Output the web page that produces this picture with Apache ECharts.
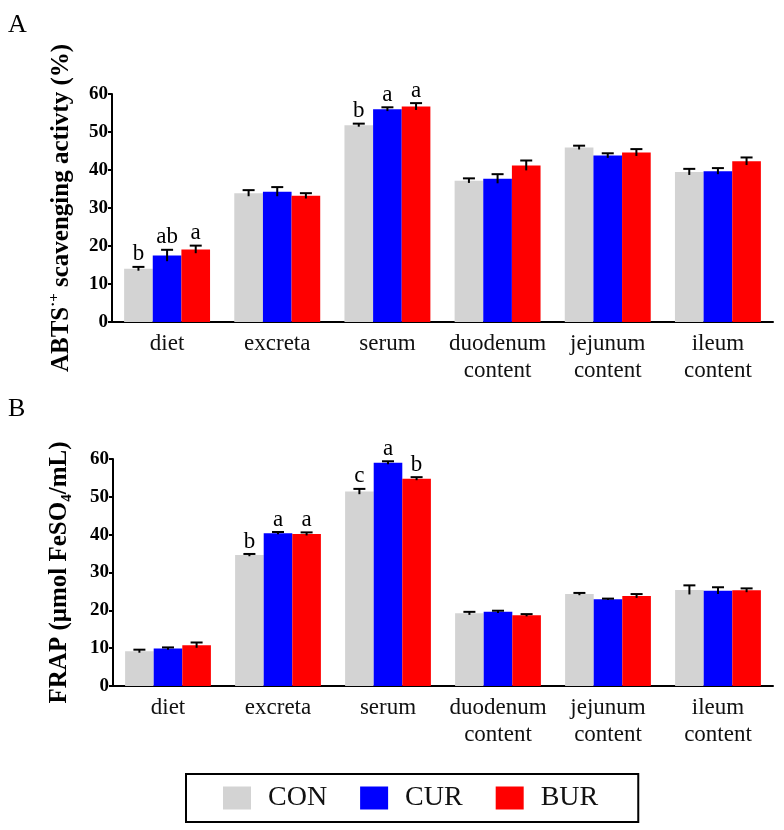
<!DOCTYPE html>
<html>
<head>
<meta charset="utf-8">
<script src="https://cdn.jsdelivr.net/npm/echarts@6/dist/echarts.min.js"></script>
<style>html,body{margin:0;padding:0;background:#fff}#c{width:784px;height:830px}</style>
</head>
<body>
<div id="c"></div>
<script>
// ---- data ----
const categories = ['diet', 'excreta', 'serum', 'duodenum\ncontent', 'jejunum\ncontent', 'ileum\ncontent'];
const seriesNames = ['CON', 'CUR', 'BUR'];
const yTicks = [0, 10, 20, 30, 40, 50, 60];

// Panel A: ABTS scavenging activity (%)
const abtsCON = [14.0, 33.9, 51.8, 37.2, 45.9, 39.5];
const abtsCUR = [17.5, 34.3, 56.0, 37.7, 43.8, 39.7];
const abtsBUR = [19.1, 33.2, 56.7, 41.2, 44.6, 42.3];
const abtsErrCON = [0.5, 0.8, 0.4, 0.6, 0.5, 0.8];
const abtsErrCUR = [1.5, 1.2, 0.5, 1.2, 0.6, 0.8];
const abtsErrBUR = [1.0, 0.7, 0.9, 1.3, 0.9, 1.0];
const abtsLetCON = ['b', '', 'b', '', '', ''];
const abtsLetCUR = ['ab', '', 'a', '', '', ''];
const abtsLetBUR = ['a', '', 'a', '', '', ''];

// Panel B: FRAP (umol FeSO4/mL)
const frapCON = [9.2, 34.6, 51.4, 19.2, 24.3, 25.4];
const frapCUR = [9.9, 40.4, 59.0, 19.6, 22.9, 25.2];
const frapBUR = [10.8, 40.2, 54.8, 18.7, 23.8, 25.3];
const frapErrCON = [0.4, 0.3, 0.7, 0.4, 0.3, 1.2];
const frapErrCUR = [0.3, 0.3, 0.4, 0.3, 0.2, 0.9];
const frapErrBUR = [0.7, 0.4, 0.4, 0.3, 0.5, 0.5];
const frapLetCON = ['', 'b', 'c', '', '', ''];
const frapLetCUR = ['', 'a', 'a', '', '', ''];
const frapLetBUR = ['', 'a', 'b', '', '', ''];

const colors = ['#d3d3d3', '#0000ff', '#ff0000'];
const SERIF = '"Liberation Serif", "Times New Roman", serif';
const CAT_GAP = 0.22;

function barSeries(g, k, vals) {
  return {
    type: 'bar', name: seriesNames[k], xAxisIndex: g, yAxisIndex: g,
    data: vals, barGap: '0%', barCategoryGap: (CAT_GAP * 100) + '%',
    itemStyle: { color: colors[k] }, z: 2
  };
}
function errSeries(g, k, vals, errs, lets) {
  return {
    type: 'custom', xAxisIndex: g, yAxisIndex: g, z: 5, silent: true,
    data: vals.map((v, i) => [i, v, errs[i]]),
    renderItem: function (params, api) {
      const i = api.value(0), v = api.value(1), e = api.value(2);
      const band = api.size([1, 0])[0];
      const bw = band * (1 - CAT_GAP) / 3;
      const base = api.coord([i, v]);
      const cx = base[0] + (k - 1) * bw;
      const yTop = api.coord([i, v + e])[1];
      const yLow = api.coord([i, v - e])[1];
      const cap = 6;
      const st = { stroke: '#000', lineWidth: 2 };
      const ch = [
        { type: 'line', shape: { x1: cx, y1: yLow, x2: cx, y2: yTop }, style: st },
        { type: 'line', shape: { x1: cx - cap, y1: yTop, x2: cx + cap, y2: yTop }, style: st }
      ];
      const t = lets[params.dataIndex];
      if (t) {
        ch.push({ type: 'text', x: cx, y: yTop - 1,
          style: { text: t, fill: '#000', font: '23px ' + SERIF, align: 'center', verticalAlign: 'bottom' } });
      }
      return { type: 'group', children: ch };
    }
  };
}

function xAxis(g) {
  return {
    type: 'category', gridIndex: g, data: categories,
    axisLine: { lineStyle: { color: '#000', width: 2 } },
    axisTick: { alignWithLabel: true, length: 6, lineStyle: { color: '#000', width: 2 } },
    axisLabel: { color: '#111', fontFamily: SERIF, fontSize: 23, lineHeight: 27, margin: 8, interval: 0 }
  };
}
function yAxis(g, name, rich, gap) {
  return {
    type: 'value', gridIndex: g, min: yTicks[0], max: yTicks[yTicks.length - 1], interval: 10,
    splitLine: { show: false },
    axisLine: { show: true, lineStyle: { color: '#000', width: 2 } },
    axisTick: { show: true, length: 4, lineStyle: { color: '#000', width: 2 } },
    axisLabel: { color: '#000', fontFamily: SERIF, fontWeight: 'bold', fontSize: 19, margin: 4,
      formatter: v => yTicks.indexOf(v) >= 0 ? String(v) : '' },
    name: name, nameLocation: 'middle', nameRotate: 90, nameGap: gap,
    nameTextStyle: { color: '#000', fontFamily: SERIF, fontWeight: 'bold', fontSize: 25, rich: rich }
  };
}

const richA = {
  b: { fontFamily: SERIF, fontWeight: 'bold', fontSize: 25, color: '#000' },
  sup: { fontFamily: SERIF, fontWeight: 'bold', fontSize: 15, color: '#000', verticalAlign: 'top', lineHeight: 30 }
};
const richB = {
  b: { fontFamily: SERIF, fontWeight: 'bold', fontSize: 25, color: '#000' },
  sub: { fontFamily: SERIF, fontWeight: 'bold', fontSize: 15, color: '#000', verticalAlign: 'bottom', lineHeight: 30 }
};

const chart = echarts.init(document.getElementById('c'), null, { renderer: 'canvas' });
chart.setOption({
  animation: false,
  backgroundColor: '#fff',
  grid: [
    { left: 112, right: 11, top: 94, height: 228 },
    { left: 113, right: 11, top: 459, height: 227 }
  ],
  xAxis: [xAxis(0), xAxis(1)],
  yAxis: [
    yAxis(0, '{b|ABTS}{sup|·+}{b| scavenging activty (%)}', richA, 35),
    yAxis(1, '{b|FRAP (μmol FeSO}{sub|4}{b|/mL)}', richB, 38)
  ],
  legend: {
    data: seriesNames, left: 186, top: 774,
    orient: 'horizontal', itemWidth: 28, itemHeight: 23, itemGap: 33,
    padding: [10, 40, 10, 37],
    borderColor: '#000', borderWidth: 2, backgroundColor: '#fff',
    icon: 'rect',
    textStyle: { fontFamily: SERIF, fontSize: 28, color: '#111', padding: [0, 0, 0, 12] }
  },
  graphic: [
    { type: 'text', left: 8, top: 12, style: { text: 'A', font: '26px ' + SERIF, fill: '#000' } },
    { type: 'text', left: 8, top: 396, style: { text: 'B', font: '26px ' + SERIF, fill: '#000' } }
  ],
  series: [
    barSeries(0, 0, abtsCON), barSeries(0, 1, abtsCUR), barSeries(0, 2, abtsBUR),
    errSeries(0, 0, abtsCON, abtsErrCON, abtsLetCON),
    errSeries(0, 1, abtsCUR, abtsErrCUR, abtsLetCUR),
    errSeries(0, 2, abtsBUR, abtsErrBUR, abtsLetBUR),
    barSeries(1, 0, frapCON), barSeries(1, 1, frapCUR), barSeries(1, 2, frapBUR),
    errSeries(1, 0, frapCON, frapErrCON, frapLetCON),
    errSeries(1, 1, frapCUR, frapErrCUR, frapLetCUR),
    errSeries(1, 2, frapBUR, frapErrBUR, frapLetBUR)
  ]
});
</script>
</body>
</html>
